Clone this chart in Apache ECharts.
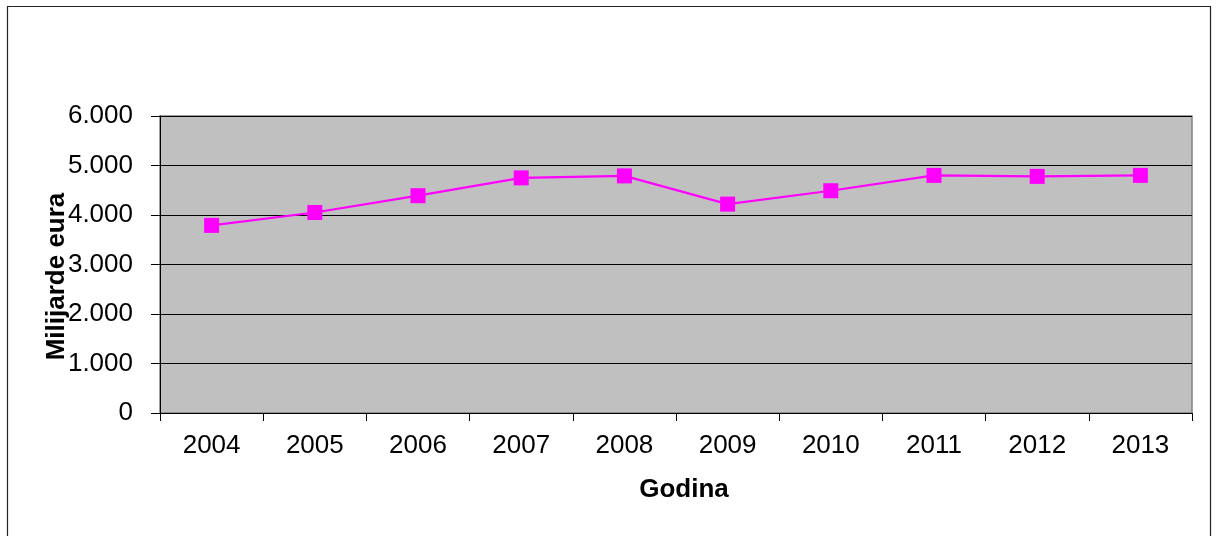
<!DOCTYPE html>
<html>
<head>
<meta charset="utf-8">
<script src="https://cdn.jsdelivr.net/npm/echarts@6/dist/echarts.min.js"></script>
<style>
html,body{margin:0;padding:0;background:#fff;}
#c{width:1217px;height:536px;}
</style>
</head>
<body>
<div id="c"></div>
<script>
const years = ['2004','2005','2006','2007','2008','2009','2010','2011','2012','2013'];
const values = [3790, 4050, 4390, 4750, 4790, 4220, 4490, 4800, 4780, 4800];
const yTicks = [0, 1000, 2000, 3000, 4000, 5000, 6000];
const yName = 'Milijarde eura';
const xName = 'Godina';

const chart = echarts.init(document.getElementById('c'), null, {renderer: 'canvas'});
const font = '"Liberation Sans", Arial, sans-serif';
chart.setOption({
  animation: false,
  backgroundColor: '#fff',
  graphic: [{
    type: 'rect', silent: true, z: -10,
    shape: {x: 7.5, y: 6.5, width: 1203, height: 600},
    style: {fill: 'none', stroke: '#222', lineWidth: 1.2}
  }],
  grid: {
    left: 160, right: 25, top: 116, bottom: 123,
    show: true, backgroundColor: '#c0c0c0', borderColor: '#808080', borderWidth: 1.5
  },
  xAxis: {
    type: 'category', data: years, boundaryGap: true,
    name: xName, nameLocation: 'middle', nameGap: 64, nameMoveOverlap: false,
    nameTextStyle: {fontFamily: font, fontSize: 26, fontWeight: 'bold', color: '#000', padding: [0, 0, 0, 16]},
    axisLine: {show: true, lineStyle: {color: '#000', width: 1}},
    axisTick: {show: true, length: 8, alignWithLabel: false, lineStyle: {color: '#000'}},
    axisLabel: {fontFamily: font, fontSize: 26, color: '#000', margin: 20},
    splitLine: {show: false}
  },
  yAxis: {
    type: 'value', min: yTicks[0], max: yTicks[yTicks.length - 1], interval: 1000,
    name: yName, nameLocation: 'middle', nameGap: 90, nameRotate: 90, nameMoveOverlap: false,
    nameTextStyle: {fontFamily: font, fontSize: 26, fontWeight: 'bold', color: '#000', padding: [0, 24, 0, 0]},
    axisLine: {show: true, lineStyle: {color: '#000', width: 1}},
    axisTick: {show: true, length: 9, lineStyle: {color: '#000'}},
    axisLabel: {
      fontFamily: font, fontSize: 26, color: '#000', margin: 27,
      formatter: v => v === 0 ? '0' : (v / 1000).toFixed(0) + '.000'
    },
    splitLine: {show: true, lineStyle: {color: '#000', width: 1}}
  },
  series: [{
    type: 'line', data: values,
    symbol: 'rect', symbolSize: 15,
    lineStyle: {color: '#ff00ff', width: 2.2},
    itemStyle: {color: '#ff00ff'}
  }]
});
</script>
</body>
</html>
